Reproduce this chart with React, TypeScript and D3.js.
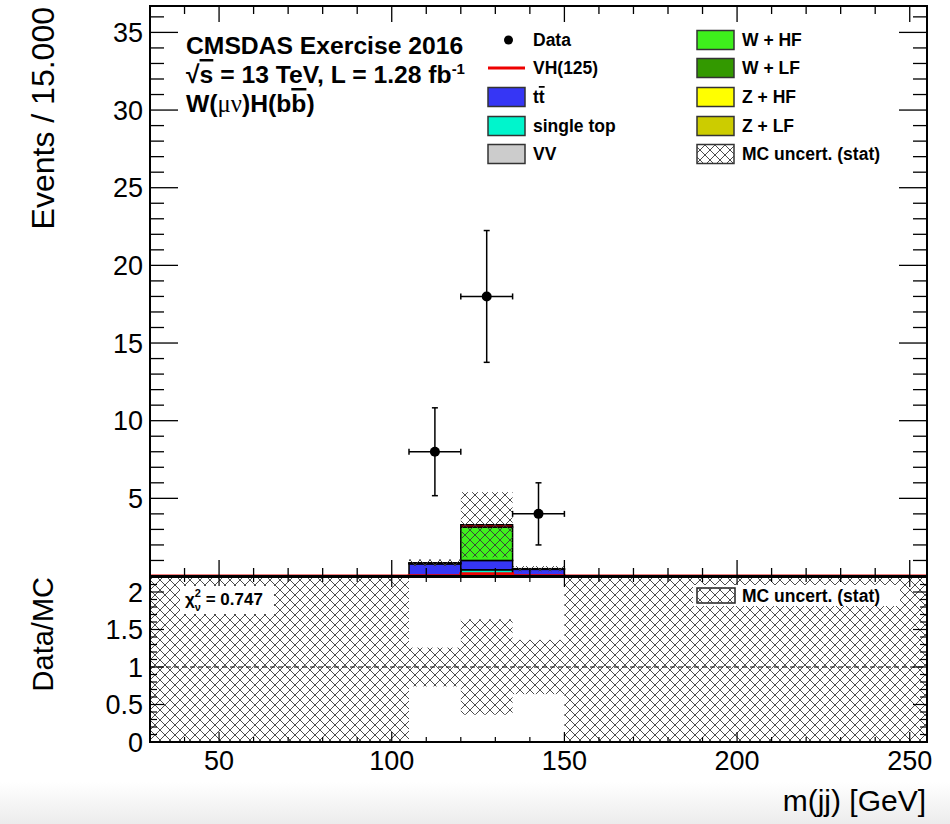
import React from 'react';
import * as d3 from 'd3';

// ---------------- data ----------------
const binEdges = [30, 45, 60, 75, 90, 105, 120, 135, 150, 165, 180, 195, 210, 225, 240, 255];
const dataCounts = [0, 0, 0, 0, 0, 8, 18, 4, 0, 0, 0, 0, 0, 0, 0];
const singleTop = [0, 0, 0, 0, 0, 0.03, 0.4, 0.03, 0, 0, 0, 0, 0, 0, 0];
const ttbar = [0, 0, 0, 0, 0, 0.75, 0.6, 0.4, 0, 0, 0, 0, 0, 0, 0];
const vv = [0, 0, 0, 0, 0, 0, 0, 0, 0, 0, 0, 0, 0, 0, 0];
const zLF = [0, 0, 0, 0, 0, 0, 0, 0, 0, 0, 0, 0, 0, 0, 0];
const zHF = [0, 0, 0, 0, 0, 0, 0, 0, 0, 0, 0, 0, 0, 0, 0];
const wLF = [0, 0, 0, 0, 0, 0, 0, 0, 0, 0, 0, 0, 0, 0, 0];
const wHF = [0, 0, 0, 0, 0, 0.05, 2.15, 0.02, 0, 0, 0, 0, 0, 0, 0];
const vh = [0, 0, 0, 0, 0, 0.02, 0.15, 0.02, 0, 0, 0, 0, 0, 0, 0];
const mcStatErr = [0, 0, 0, 0, 0, 0.22, 2.1, 0.17, 0, 0, 0, 0, 0, 0, 0];

const xTickLabels = [50, 100, 150, 200, 250];
const yTickLabelsMain = [5, 10, 15, 20, 25, 30, 35];
const yTickLabelsRatio = [0, 0.5, 1, 1.5, 2];
const chi2Text = '0.747';

const stackLayers = [
  { name: 'single top', values: singleTop, color: '#00f5cc' },
  { name: 'tt', values: ttbar, color: '#3636f5' },
  { name: 'VV', values: vv, color: '#cccccc' },
  { name: 'Z + LF', values: zLF, color: '#cccc00' },
  { name: 'Z + HF', values: zHF, color: '#ffff00' },
  { name: 'W + LF', values: wLF, color: '#339900' },
  { name: 'W + HF', values: wHF, color: '#3ef01c' },
  { name: 'VH(125)', values: vh, color: '#ee0000' },
];

const FONT = '"Liberation Sans", Arial, Helvetica, sans-serif';

export default function App() {
  const W = 950, H = 824;
  const left = 150, right = 927;
  const mainTop = 6, mainBottom = 576;
  const ratioTop = 577, ratioBottom = 742;

  const x = d3.scaleLinear().domain([30, 255]).range([left, right]);
  const y = d3.scaleLinear().domain([0, 36.7]).range([mainBottom, mainTop]);
  const yr = d3.scaleLinear().domain([0, 2.2]).range([ratioBottom, ratioTop]);

  const nBins = dataCounts.length;
  const bins = d3.range(nBins).map((i) => ({ lo: binEdges[i], hi: binEdges[i + 1], c: (binEdges[i] + binEdges[i + 1]) / 2 }));

  const stackRects: { x0: number; x1: number; y0: number; y1: number; color: string; key: string }[] = [];
  const totals = d3.range(nBins).map(() => 0);
  stackLayers.forEach((layer, li) => {
    layer.values.forEach((v, i) => {
      if (v > 0) {
        const b0 = totals[i];
        const b1 = b0 + v;
        stackRects.push({ x0: x(bins[i].lo), x1: x(bins[i].hi), y0: y(b0), y1: y(b1), color: layer.color, key: `${li}-${i}` });
      }
      totals[i] += v;
    });
  });

  const vhPts: [number, number][] = [];
  vh.forEach((v, i) => {
    vhPts.push([x(bins[i].lo), y(v)]);
    vhPts.push([x(bins[i].hi), y(v)]);
  });
  const vhLine = d3.line()(vhPts) || '';

  const xMinor = d3.range(30, 256, 10);
  const yMinorMain = d3.range(0, 37, 1);
  const yMinorRatio = d3.range(0, 2.21, 0.1);

  const hatchId = 'hatch3013';

  const legendLeft = [
    { type: 'data', label: 'Data' },
    { type: 'line', label: 'VH(125)', color: '#ee0000' },
    { type: 'box', label: 'tt', color: '#3636f5', bar: true },
    { type: 'box', label: 'single top', color: '#00f5cc' },
    { type: 'box', label: 'VV', color: '#cccccc' },
  ];
  const legendRight = [
    { type: 'box', label: 'W + HF', color: '#3ef01c' },
    { type: 'box', label: 'W + LF', color: '#339900' },
    { type: 'box', label: 'Z + HF', color: '#ffff00' },
    { type: 'box', label: 'Z + LF', color: '#cccc00' },
    { type: 'hatch', label: 'MC uncert. (stat)' },
  ];
  const legRowY = [40, 68, 97, 126, 154];

  const renderLegendItem = (item: any, i: number, bx: number, tx: number) => {
    const cy = legRowY[i];
    let sym: any = null;
    if (item.type === 'data') {
      sym = <circle cx={bx + 20.5} cy={cy} r={4.5} fill="#000" />;
    } else if (item.type === 'line') {
      sym = <line x1={bx} x2={bx + 37} y1={cy} y2={cy} stroke={item.color} strokeWidth={3} />;
    } else if (item.type === 'box') {
      sym = <rect x={bx} y={cy - 9.5} width={37} height={19} fill={item.color} stroke="#333" strokeWidth={1.5} />;
    } else {
      sym = (
        <g>
          <rect x={bx} y={cy - 9.5} width={37} height={19} fill="#fff" stroke="#333" strokeWidth={1.5} />
          <rect x={bx} y={cy - 9.5} width={37} height={19} fill={`url(#${hatchId})`} />
        </g>
      );
    }
    return (
      <g key={item.label}>
        {sym}
        <text x={tx} y={cy + 6} fontFamily={FONT} fontWeight="bold" fontSize={17.5} fill="#000">
          {item.bar ? (
            <>
              t<tspan style={{ textDecoration: 'overline' }}>t</tspan>
            </>
          ) : (
            item.label
          )}
        </text>
      </g>
    );
  };

  return (
    <svg width={W} height={H} style={{ position: 'absolute', left: 0, top: 0, background: '#fff' }} fontFamily={FONT}>
      <defs>
        <pattern id={hatchId} patternUnits="userSpaceOnUse" width={10} height={10}>
          <path d="M-1,-1 L11,11 M11,-1 L-1,11" stroke="#3a3a3a" strokeWidth={0.9} fill="none" />
        </pattern>
        <clipPath id="clipMain">
          <rect x={left} y={mainTop} width={right - left} height={mainBottom - mainTop} />
        </clipPath>
        <clipPath id="clipRatio">
          <rect x={left} y={ratioTop} width={right - left} height={ratioBottom - ratioTop} />
        </clipPath>
        <linearGradient id="bottomFade" x1="0" y1="0" x2="0" y2="1">
          <stop offset="0" stopColor="#ffffff" />
          <stop offset="1" stopColor="#ececec" />
        </linearGradient>
      </defs>
      <rect x={0} y={0} width={W} height={H} fill="#fff" />
      <rect x={0} y={782} width={W} height={H - 782} fill="url(#bottomFade)" />

      {/* ---------- main panel ---------- */}
      <g clipPath="url(#clipMain)">
        {stackRects.map((r) => (
          <rect key={r.key} x={r.x0} y={r.y1} width={r.x1 - r.x0} height={r.y0 - r.y1} fill={r.color} stroke="#000" strokeWidth={1.5} />
        ))}
        {bins.map((b, i) =>
          totals[i] > 0 ? (
            <rect
              key={`h${i}`}
              x={x(b.lo)}
              y={y(totals[i] + mcStatErr[i])}
              width={x(b.hi) - x(b.lo)}
              height={y(Math.max(0, totals[i] - mcStatErr[i])) - y(totals[i] + mcStatErr[i])}
              fill={`url(#${hatchId})`}
            />
          ) : null
        )}
        <path d={vhLine} fill="none" stroke="#ee0000" strokeWidth={3} />
        {bins.map((b, i) => {
          const n = dataCounts[i];
          if (n <= 0) return null;
          const e = Math.sqrt(n);
          const cx = x(b.c), cy = y(n);
          return (
            <g key={`d${i}`} stroke="#000" strokeWidth={1.5}>
              <line x1={x(b.lo)} x2={x(b.hi)} y1={cy} y2={cy} />
              <line x1={x(b.lo)} x2={x(b.lo)} y1={cy - 3} y2={cy + 3} />
              <line x1={x(b.hi)} x2={x(b.hi)} y1={cy - 3} y2={cy + 3} />
              <line x1={cx} x2={cx} y1={y(n + e)} y2={y(n - e)} />
              <line x1={cx - 3} x2={cx + 3} y1={y(n + e)} y2={y(n + e)} />
              <line x1={cx - 3} x2={cx + 3} y1={y(n - e)} y2={y(n - e)} />
              <circle cx={cx} cy={cy} r={5} fill="#000" stroke="none" />
            </g>
          );
        })}
      </g>

      <g stroke="#000" strokeWidth={1.3}>
        {xMinor.map((v) => {
          const major = v % 50 === 0;
          const len = major ? 16 : 8;
          return (
            <g key={`mx${v}`}>
              <line x1={x(v)} x2={x(v)} y1={mainBottom} y2={mainBottom - len} />
              <line x1={x(v)} x2={x(v)} y1={mainTop} y2={mainTop + len} />
            </g>
          );
        })}
        {yMinorMain.map((v) => {
          const major = v % 5 === 0;
          const len = major ? 28 : 14;
          if (y(v) < mainTop) return null;
          return (
            <g key={`my${v}`}>
              <line x1={left} x2={left + len} y1={y(v)} y2={y(v)} />
              <line x1={right} x2={right - len} y1={y(v)} y2={y(v)} />
            </g>
          );
        })}
      </g>
      <rect x={left} y={mainTop} width={right - left} height={mainBottom - mainTop} fill="none" stroke="#000" strokeWidth={2} />

      {yTickLabelsMain.map((v) => (
        <text key={`yl${v}`} x={143} y={y(v) + 9.5} textAnchor="end" fontSize={27} fill="#000">
          {v}
        </text>
      ))}
      <text transform={`translate(54,7) rotate(-90)`} textAnchor="end" fontSize={32} fill="#000">
        Events / 15.000
      </text>

      {/* title text */}
      <g fontWeight="bold" fontSize={24.7} fill="#000">
        <text x={186} y={54}>CMSDAS Exercise 2016</text>
        <text x={186} y={83}>
          √<tspan style={{ textDecoration: 'overline' }}>s</tspan> = 13 TeV, L = 1.28 fb
          <tspan dy={-9} fontSize={15}>-1</tspan>
        </text>
        <text x={186} y={112}>
          W(<tspan fontWeight="normal" fontFamily='"Liberation Serif", "DejaVu Serif", serif'>μν</tspan>)H(b
          <tspan style={{ textDecoration: 'overline' }}>b</tspan>)
        </text>
      </g>

      {legendLeft.map((it, i) => renderLegendItem(it, i, 488, 533))}
      {legendRight.map((it, i) => renderLegendItem(it, i, 697, 742))}

      {/* ---------- ratio panel ---------- */}
      <g clipPath="url(#clipRatio)">
        {bins.map((b, i) => {
          const t = totals[i];
          const hi = t > 0 ? 1 + mcStatErr[i] / t : yr.domain()[1];
          const lo = t > 0 ? Math.max(0, 1 - mcStatErr[i] / t) : 0;
          return (
            <rect key={`rb${i}`} x={x(b.lo)} y={yr(hi)} width={x(b.hi) - x(b.lo)} height={yr(lo) - yr(hi)} fill={`url(#${hatchId})`} />
          );
        })}
        <line x1={left} x2={right} y1={yr(1)} y2={yr(1)} stroke="#000" strokeWidth={1} strokeDasharray="5,3" />
        {bins.map((b, i) => {
          const t = totals[i];
          const n = dataCounts[i];
          if (t <= 0 || n <= 0) return null;
          const r = n / t;
          const e = Math.sqrt(n) / t;
          return (
            <g key={`rp${i}`} stroke="#000" strokeWidth={1.5}>
              <line x1={x(b.lo)} x2={x(b.hi)} y1={yr(r)} y2={yr(r)} />
              <line x1={x(b.c)} x2={x(b.c)} y1={yr(r + e)} y2={yr(r - e)} />
              <circle cx={x(b.c)} cy={yr(r)} r={5} fill="#000" stroke="none" />
            </g>
          );
        })}
      </g>

      <g stroke="#000" strokeWidth={1.2}>
        {xMinor.map((v) => {
          const major = v % 50 === 0;
          const len = major ? 10 : 5;
          return (
            <g key={`rx${v}`}>
              <line x1={x(v)} x2={x(v)} y1={ratioBottom} y2={ratioBottom - len} />
              <line x1={x(v)} x2={x(v)} y1={ratioTop} y2={ratioTop + len} />
            </g>
          );
        })}
        {yMinorRatio.map((v, k) => {
          const major = k % 5 === 0;
          const len = major ? 14 : 7;
          return (
            <g key={`ry${k}`}>
              <line x1={left} x2={left + len} y1={yr(v)} y2={yr(v)} />
              <line x1={right} x2={right - len} y1={yr(v)} y2={yr(v)} />
            </g>
          );
        })}
      </g>
      <rect x={left} y={ratioTop} width={right - left} height={ratioBottom - ratioTop} fill="none" stroke="#000" strokeWidth={2} />

      {/* chi2 box */}
      <rect x={180} y={586} width={94} height={28} fill="#fff" />
      <text x={185} y={605} fontWeight="bold" fontSize={17} fill="#000">
        χ<tspan dy={-8} fontSize={11}>2</tspan>
        <tspan dx={-6.1} dy={14} fontSize={11}>ν</tspan>
        <tspan dy={-6}> = {chi2Text}</tspan>
      </text>

      {/* ratio legend */}
      <rect x={693} y={585} width={207} height={21} fill="#fff" />
      <rect x={697} y={588} width={38} height={15} fill="#fff" stroke="#222" strokeWidth={1.5} />
      <rect x={697} y={588} width={38} height={15} fill={`url(#${hatchId})`} />
      <text x={742} y={602} fontWeight="bold" fontSize={17.5} fill="#000">
        MC uncert. (stat)
      </text>

      {yTickLabelsRatio.map((v) => (
        <text key={`ryl${v}`} x={143} y={yr(v) + 9.5} textAnchor="end" fontSize={27} fill="#000">
          {v}
        </text>
      ))}
      <text transform={`translate(53,577) rotate(-90)`} textAnchor="end" fontSize={29} fill="#000">
        Data/MC
      </text>

      {xTickLabels.map((v) => (
        <text key={`xl${v}`} x={x(v)} y={770} textAnchor="middle" fontSize={27} fill="#000">
          {v}
        </text>
      ))}
      <text x={926} y={811} textAnchor="end" fontSize={30} fill="#000">
        m(jj) [GeV]
      </text>
    </svg>
  );
}
